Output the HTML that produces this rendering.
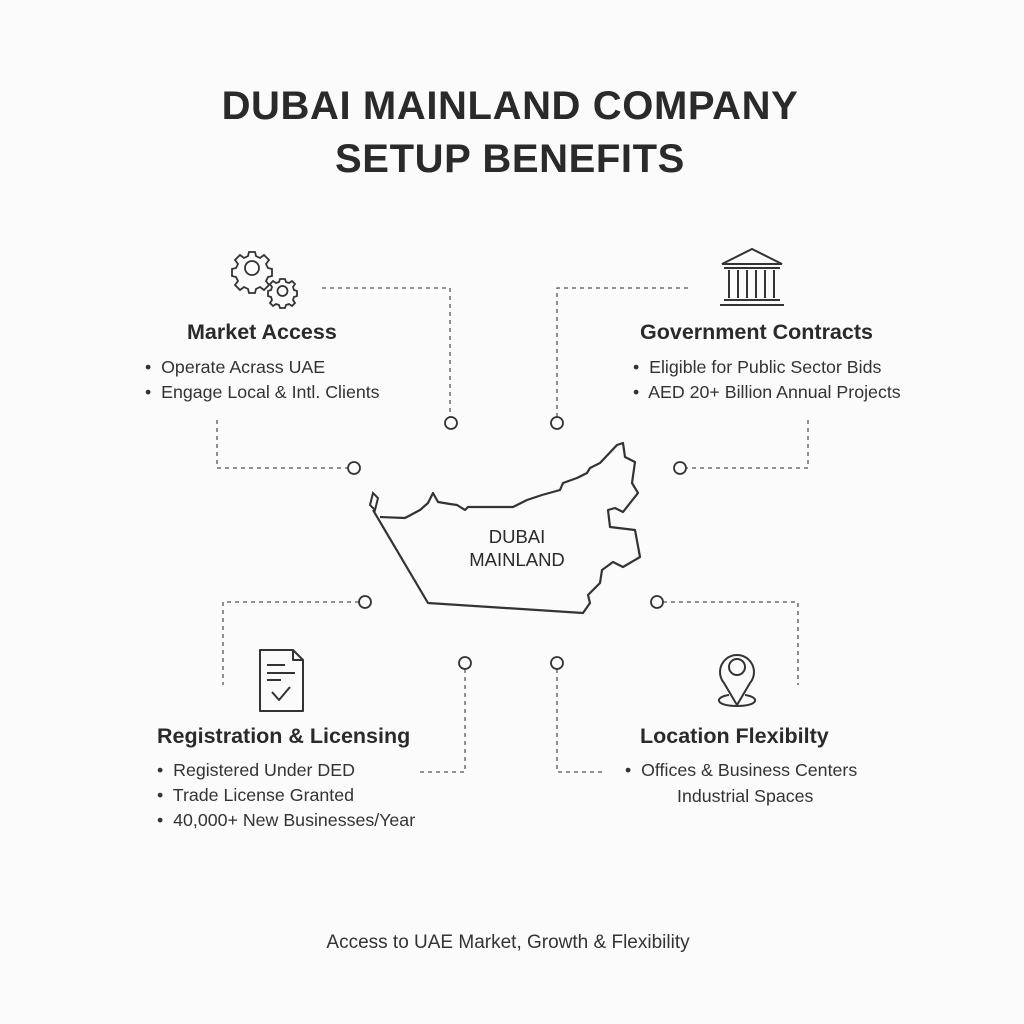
<!DOCTYPE html>
<html><head><meta charset="utf-8"><style>
html,body{margin:0;padding:0;background:#fbfbfb;}
body{width:1024px;height:1024px;position:relative;overflow:hidden;font-family:"Liberation Sans",sans-serif;color:#2a2a2a;}
.t{position:absolute;white-space:nowrap;}
.title{left:0;width:1020px;text-align:center;font-weight:bold;font-size:40px;line-height:52px;color:#2a2a2a;letter-spacing:0.6px;}
.h{font-weight:bold;font-size:21.5px;}
.b{font-size:17.8px;color:#333;}
</style></head><body>
<svg width="1024" height="1024" style="position:absolute;left:0;top:0" fill="none" stroke="#333">
<g stroke-dasharray="4,4" stroke-width="1.3" stroke="#555">
<path d="M322 288 H450 V417"/>
<path d="M217 420 V468 H348"/>
<path d="M688 288 H557 V417"/>
<path d="M808 420 V468 H686"/>
<path d="M359 602 H223 V685"/>
<path d="M465 669 V772 H420"/>
<path d="M557 669 V772 H605"/>
<path d="M663 602 H798 V685"/>
</g>
<g stroke-width="1.8" fill="#fbfbfb">
<circle cx="451" cy="423" r="6"/><circle cx="354" cy="468" r="6"/>
<circle cx="557" cy="423" r="6"/><circle cx="680" cy="468" r="6"/>
<circle cx="365" cy="602" r="6"/><circle cx="465" cy="663" r="6"/>
<circle cx="557" cy="663" r="6"/><circle cx="657" cy="602" r="6"/>
</g>
<path stroke-width="2.2" stroke-linejoin="round" d="M373 510 L428 603 L583 613 L590 603 L588 595 L600 583 L602 570 L613 562 L623 567 L640 557 L635 530 L610 527 L608 510 L615 508 L623 512 L638 493 L632 483 L635 462 L625 457 L623 443 L617 445 L600 463 L590 468 L587 473 L577 478 L563 483 L560 490 L542 495 L527 500 L513 507 L468 507 L465 510 L457 505 L450 504 L438 502 L433 493 L428 503 L420 510 L405 518 L380 517"/>
<path stroke-width="2" d="M370 505 L373 493 L378 498 L375 510 Z"/>
<g stroke-width="1.8">
<path d="M249 252 h6 l1 4 l4 2 l4-3 l5 5 l-3 4 l2 4 l4 1 v7 l-4 1 l-2 4 l3 4 l-5 5 l-4-3 l-4 2 l-1 4 h-6 l-1-4 l-4-2 l-4 3 l-5-5 l3-4 l-2-4 l-4-1 v-7 l4-1 l2-4 l-3-4 l5-5 l4 3 l4-2 z"/>
<circle cx="252" cy="268" r="7"/>
<path d="M280 279 h5 l1 3 l3 1 l3-2 l3 3 l-2 3 l1 3 l3 1 v5 l-3 1 l-1 3 l2 3 l-3 3 l-3-2 l-3 1 l-1 3 h-5 l-1-3 l-3-1 l-3 2 l-3-3 l2-3 l-1-3 l-3-1 v-5 l3-1 l1-3 l-2-3 l3-3 l3 2 l3-1 z"/>
<circle cx="282.5" cy="291" r="5"/>
</g>
<g stroke-width="2">
<path d="M722 264 L752 249 L782 264 Z"/>
<path d="M724 268 H780 M724 300 H780 M720 305 H784"/>
<path d="M729 270 V298 M738 270 V298 M747 270 V298 M756 270 V298 M765 270 V298 M774 270 V298"/>
</g>
<g stroke-width="2" stroke-linejoin="round">
<path d="M260 650 H293 L303 660 V711 H260 Z"/><path d="M293 650 V660 H303"/>
<path d="M267 665 H285 M267 673 H295 M267 680 H281"/>
<path d="M272 692 L279 700 L290 687"/>
</g>
<g stroke-width="2">
<path d="M737 705 L724 683 A17 17 0 1 1 750 683 Z"/>
<circle cx="737" cy="667" r="8"/>
<path d="M729 695 C714 697 715 706 737 706 C759 706 760 697 745 695"/>
</g>
</svg>
<div class="t title" style="top:80px">DUBAI MAINLAND COMPANY</div>
<div class="t title" style="top:133px">SETUP BENEFITS</div>

<div class="t h" style="left:187px;top:320px">Market Access</div>
<div class="t b" style="left:145px;top:357px">•&nbsp; Operate Acrass UAE</div>
<div class="t b" style="left:145px;top:382px">•&nbsp; Engage Local &amp; Intl. Clients</div>

<div class="t h" style="left:640px;top:320px">Government Contracts</div>
<div class="t b" style="left:633px;top:357px">•&nbsp; Eligible for Public Sector Bids</div>
<div class="t b" style="left:633px;top:382px">•&nbsp; AED 20+ Billion Annual Projects</div>

<div class="t" style="left:457px;top:525px;font-size:18.5px;line-height:23px;text-align:center;width:120px">DUBAI<br>MAINLAND</div>

<div class="t h" style="left:157px;top:724px">Registration &amp; Licensing</div>
<div class="t b" style="left:157px;top:760px">•&nbsp; Registered Under DED</div>
<div class="t b" style="left:157px;top:785px">•&nbsp; Trade License Granted</div>
<div class="t b" style="left:157px;top:810px">•&nbsp; 40,000+ New Businesses/Year</div>

<div class="t h" style="left:640px;top:724px">Location Flexibilty</div>
<div class="t b" style="left:625px;top:760px">•&nbsp; Offices &amp; Business Centers</div>
<div class="t b" style="left:677px;top:786px">Industrial Spaces</div>

<div class="t b" style="left:0;width:1016px;text-align:center;top:932px;font-size:19px">Access to UAE Market, Growth &amp; Flexibility</div>
</body></html>
